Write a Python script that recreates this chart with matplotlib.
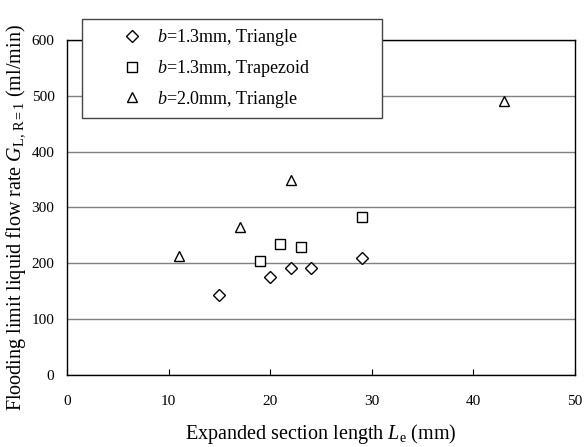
import numpy as np
import matplotlib
matplotlib.use('Agg')
import matplotlib.pyplot as plt

plt.rcParams['font.family'] = ['Liberation Serif', 'DejaVu Serif']
plt.rcParams['mathtext.fontset'] = 'custom'
plt.rcParams['mathtext.rm'] = 'Liberation Serif'
plt.rcParams['mathtext.it'] = 'Liberation Serif:italic'

# expanded section length (mm) vs flooding limit liquid flow rate (ml/min)
tri13_le = [15, 20, 22, 24, 29]
tri13_g = [143, 175, 192, 192, 209]
trap13_le = [19, 21, 23, 29]
trap13_g = [203, 234, 228, 282]
tri20_le = [11, 17, 22, 43]
tri20_g = [212, 264, 349, 490]

labels = ['$b$=1.3mm, Triangle', '$b$=1.3mm, Trapezoid', '$b$=2.0mm, Triangle']

fig = plt.figure(figsize=(5.85, 4.47), dpi=100)
ax = fig.add_axes([0.1145, 0.162, 0.8685, 0.7485])

mk = dict(linestyle='none', markerfacecolor='white', markeredgecolor='black',
          markeredgewidth=1.0)
h1, = ax.plot(tri13_le, tri13_g, marker='D', markersize=6.3, label=labels[0], **mk)
h2, = ax.plot(trap13_le, trap13_g, marker='s', markersize=7, label=labels[1], **mk)
h3, = ax.plot(tri20_le, tri20_g, marker='^', markersize=7.5, label=labels[2], **mk)

ax.set_xlim(0, 50)
ax.set_ylim(0, 600)
ax.set_xticks(np.arange(0, 51, 10))
ax.set_yticks(np.arange(0, 601, 100))
ax.yaxis.grid(True, color='#808080', linewidth=1.0)
ax.set_axisbelow(True)
for s in ax.spines.values():
    s.set_color('black')
    s.set_linewidth(1.0)

ax.tick_params(axis='x', direction='in', length=4, width=0.8, pad=15, labelsize=11)
ax.tick_params(axis='y', direction='in', length=0, pad=9, labelsize=11)

ax.set_xlabel('Expanded section length $L_{\\mathrm{e}}$ (mm)', fontsize=14.5, labelpad=10)
ax.set_ylabel('Flooding limit liquid flow rate $G_{\\mathrm{L,\\,R=1}}$ (ml/min)',
              fontsize=14.5)
ax.yaxis.set_label_coords(-0.077, 0.47)

leg = fig.legend(handles=[h1, h2, h3], loc='upper left',
                 bbox_to_anchor=(82 / 585, 1 - 19 / 447, 300 / 585, 0),
                 mode='expand', borderaxespad=0, fontsize=13, numpoints=1,
                 handlelength=4.65, handletextpad=-0.94, borderpad=0.45,
                 labelspacing=0.54, fancybox=False, framealpha=1,
                 edgecolor='#444444')
leg.get_frame().set_linewidth(1.0)

fig.savefig('out.png', dpi=100)
